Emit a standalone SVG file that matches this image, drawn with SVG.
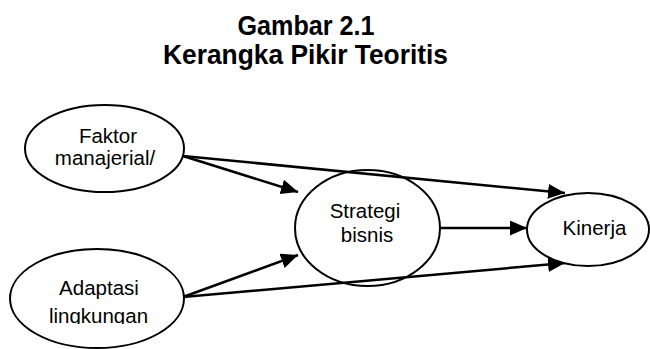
<svg xmlns="http://www.w3.org/2000/svg" width="650" height="349" viewBox="0 0 650 349">
<style>
.title{font-family:"Liberation Sans",Arial,sans-serif;font-weight:bold;font-size:27px;fill:#000;text-anchor:middle}
.lbl{font-family:"Liberation Sans",Arial,sans-serif;font-size:20.5px;fill:#000;text-anchor:middle}
.node ellipse{fill:#fff;stroke:#000;stroke-width:2}
.edge{stroke:#000;stroke-width:2.5;fill:none;marker-end:url(#arr)}
</style>
<defs>
<marker id="arr" markerUnits="userSpaceOnUse" markerWidth="19" markerHeight="17" refX="17" refY="7.5" orient="auto">
<path d="M0,0 L17,7.5 L0,15 z" fill="#000"/>
</marker>
<clipPath id="clipA"><rect x="0" y="0" width="650" height="324"/></clipPath>
</defs>
<rect width="650" height="349" fill="#fff"/>
<text class="title" x="306" y="35" textLength="137" lengthAdjust="spacingAndGlyphs">Gambar 2.1</text>
<text class="title" x="305.5" y="64" textLength="285" lengthAdjust="spacingAndGlyphs">Kerangka Pikir Teoritis</text>
<g id="connectors">
<line class="edge" x1="183" y1="156" x2="565" y2="193"/>
<line class="edge" x1="183" y1="297" x2="565" y2="263"/>
<line class="edge" x1="183" y1="156" x2="298" y2="192"/>
<line class="edge" x1="183" y1="297" x2="298" y2="255"/>
<line class="edge" x1="440" y1="228" x2="527" y2="228"/>
</g>
<g id="faktor" class="node">
<ellipse cx="104.5" cy="148.5" rx="79.5" ry="43.5"/>
<text class="lbl" x="108" y="143">Faktor</text>
<text class="lbl" x="105" y="165">manajerial/</text>
</g>
<g id="adaptasi" class="node">
<ellipse cx="97" cy="298.5" rx="87" ry="49.5"/>
<text class="lbl" x="99" y="295">Adaptasi</text>
<text class="lbl" x="98.5" y="323" clip-path="url(#clipA)">lingkungan</text>
</g>
<g id="strategi" class="node">
<ellipse cx="367.5" cy="228" rx="72.5" ry="58" style="fill:none"/>
<text class="lbl" x="365" y="218">Strategi</text>
<text class="lbl" x="367" y="242">bisnis</text>
</g>
<g id="kinerja" class="node">
<ellipse cx="588" cy="229.5" rx="61" ry="36.5"/>
<text class="lbl" x="594.5" y="235">Kinerja</text>
</g>
</svg>
